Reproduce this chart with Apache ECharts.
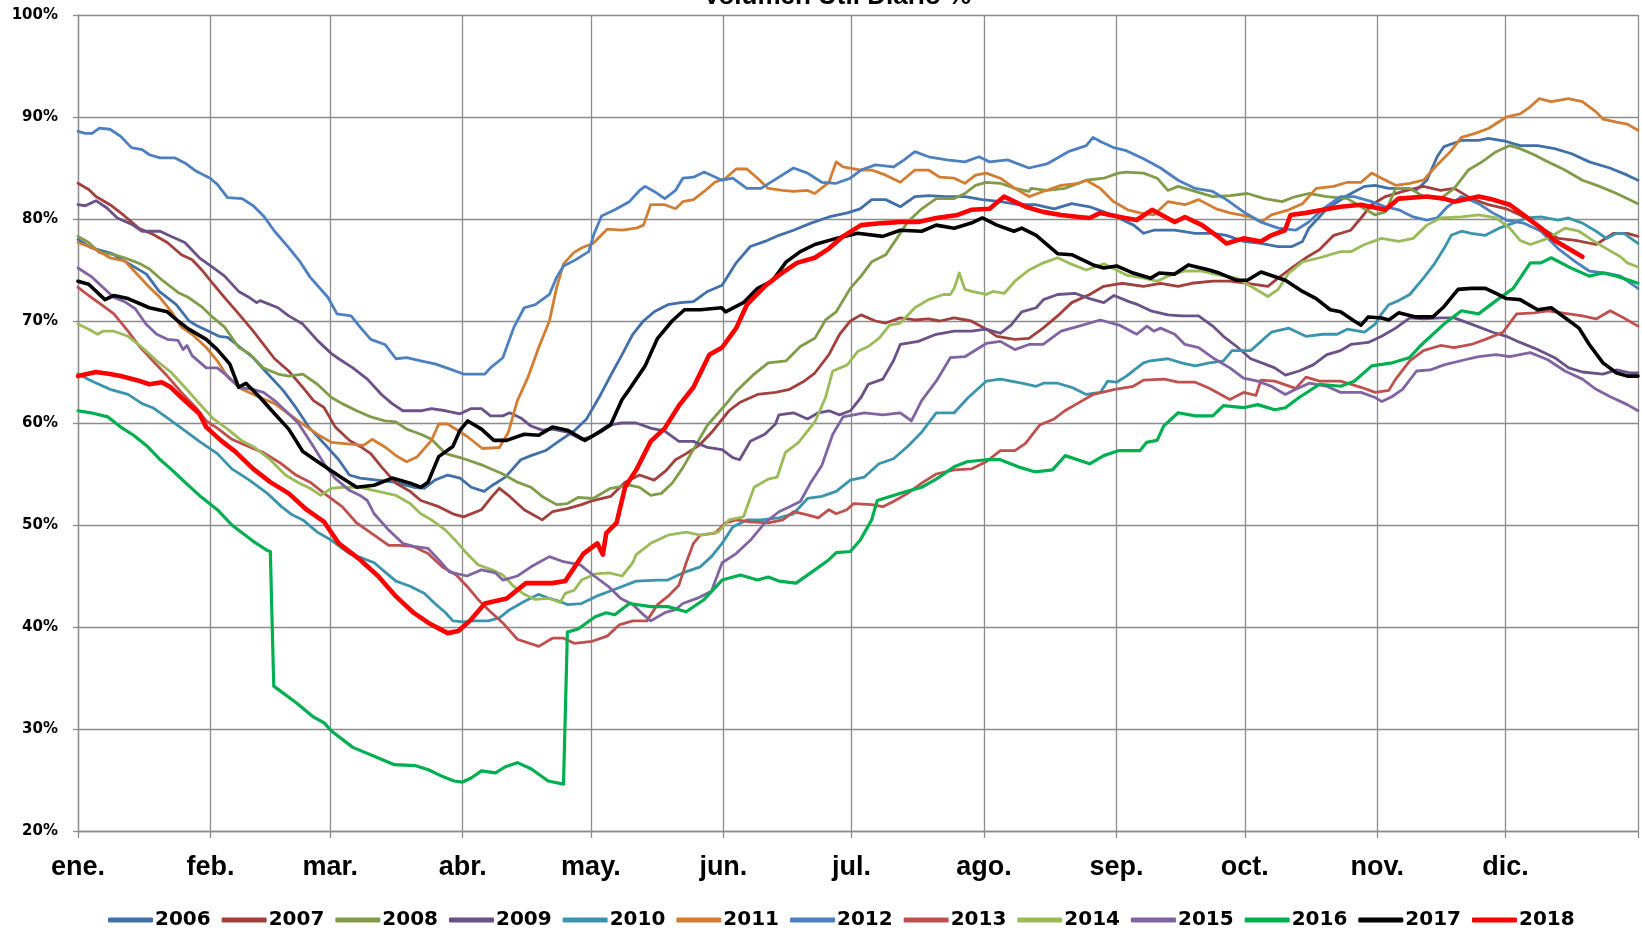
<!DOCTYPE html>
<html>
<head>
<meta charset="utf-8">
<script src="https://cdn.jsdelivr.net/npm/echarts@6/dist/echarts.min.js"></script>
<style>
html,body{margin:0;padding:0;background:#fff;}
#chart{width:1642px;height:930px;}
</style>
</head>
<body>
<div id="chart"></div>
<script>
// ---- Data: [day of year, volume %] ----
const years = ['2006','2007','2008','2009','2010','2011','2012','2013','2014','2015','2016','2017','2018'];
const monthLabels = ['ene.','feb.','mar.','abr.','may.','jun.','jul.','ago.','sep.','oct.','nov.','dic.'];
const monthStarts = [0,31,59,90,120,151,181,212,243,273,304,334,365];
const yTicks = [20,30,40,50,60,70,80,90,100];

const y2006 = [[0,78.0],[3,77.2],[8,76.6],[12,75.6],[16,74.6],[19,72.9],[23,71.6],[26,70.0],[28,69.5],[33,68.5],[35,68.4],[38,67.4],[41,66.4],[44,65.0],[48,63.2],[51,61.5],[54,59.6],[58,57.8],[61,56.4],[63.5,54.9],[66,54.6],[70,54.4],[74,54.2],[78.5,53.7],[81,53.6],[83.5,54.4],[86.5,54.9],[89.4,54.6],[92,53.7],[95,53.3],[97,53.9],[100,54.7],[103.6,56.4],[106,56.8],[109.4,57.3],[112.8,58.3],[116,59.2],[119,60.4],[122.3,62.8],[124.8,64.8],[127.3,66.7],[129.8,68.7],[132.3,70.0],[134.8,70.9],[138,71.6],[141,71.8],[144,71.9],[147.3,72.9],[150.7,73.5],[154,75.7],[157.3,77.3],[160.7,77.8],[164,78.4],[167.4,78.9],[171.5,79.6],[175.7,80.2],[180,80.6],[183,81.0],[185.7,81.9],[189,81.9],[192.4,81.2],[195.8,82.2],[199,82.3],[203,82.2],[207.5,82.2],[211.6,81.9],[216,81.7],[220,81.4],[224,81.4],[228.4,81.0],[232.5,81.5],[236.7,81.2],[240,80.7],[243,80.2],[247,79.4],[249.3,78.6],[251.7,78.9],[256.6,78.9],[261.4,78.6],[265.5,78.6],[268.7,78.4],[272.7,77.8],[276.8,77.6],[280.8,77.3],[284,77.3],[286.5,77.8],[288,79.1],[292.2,81.0],[297,82.3],[301,83.2],[303.5,83.3],[306.7,83.0],[310,83.0],[313,82.8],[315.6,83.8],[318,86.1],[319.6,87.1],[323.7,87.7],[327.7,87.7],[330,87.9],[334.2,87.6],[337.4,87.2],[341.5,87.2],[345.5,86.9],[349.5,86.4],[353.6,85.6],[358.4,85.0],[362.5,84.3],[365,83.8]];

const y2007 = [[0,83.5],[2.5,82.9],[4.2,82.2],[7.5,81.4],[10.9,80.3],[14.2,79.1],[17.5,78.5],[20.9,77.7],[24.2,76.5],[26.7,76.0],[29.2,74.9],[31.7,73.6],[34.3,72.3],[37.6,70.7],[41,69.0],[43.4,67.7],[46,66.3],[49.3,65.1],[52.6,63.5],[55.1,62.2],[57.6,61.5],[60.2,59.6],[63.5,58.3],[66,57.7],[68.5,57.0],[71,55.7],[74.4,54.1],[77.7,53.3],[80.2,52.4],[84.4,51.8],[87.7,51.1],[90.2,50.8],[94.4,51.5],[96.9,52.8],[98.6,53.6],[101,52.8],[104.4,51.5],[108.6,50.5],[111,51.3],[114.5,51.6],[117.8,52.0],[120.5,52.4],[124.6,52.8],[128,54.2],[131.4,54.9],[134.8,54.4],[137.5,55.3],[139.8,56.4],[142.3,57.0],[145.3,57.8],[148.5,59.2],[152.3,61.2],[154.8,62.0],[159,62.8],[163.2,63.0],[166.5,63.3],[169.9,64.1],[172.4,64.9],[175.7,66.7],[178.2,68.7],[180.7,70.0],[183.2,70.6],[186.6,70.0],[189,69.8],[192.4,70.3],[195.8,70.1],[199,70.2],[201.6,70.0],[205,70.3],[209,70.0],[212.5,69.2],[215,68.5],[219.2,68.2],[222.5,68.3],[225.8,69.3],[229.2,70.5],[232.5,71.8],[236.7,72.6],[240,73.4],[244.2,73.7],[249.3,73.4],[253.3,73.7],[257.4,73.4],[260.6,73.7],[265.5,73.9],[269.5,73.9],[273.6,73.7],[278.4,73.4],[280.8,74.2],[284,75.2],[287.3,76.2],[290.5,77.0],[293.8,78.4],[297.8,78.9],[300.2,80.1],[302.7,81.4],[305.9,82.2],[310,82.7],[314.8,83.2],[318.8,82.8],[322,83.0],[326,82.0],[330,81.4],[334.2,81.0],[337.4,80.4],[341.5,79.4],[346.3,78.1],[350.4,77.9],[355.2,77.5],[359.3,78.6],[362.5,78.6],[365,78.3]];

const y2008 = [[0,78.3],[2.5,77.7],[5,76.7],[8.4,76.5],[10.9,76.2],[14.6,75.6],[16.7,75.1],[20,73.9],[23.4,72.8],[25.9,72.3],[29.2,71.3],[31.7,70.3],[34.3,69.4],[37.6,67.4],[40.1,66.8],[43.4,65.4],[46.8,64.8],[49.3,64.6],[52.6,64.8],[56,63.8],[59.3,62.5],[61.8,61.9],[65.2,61.2],[68.5,60.6],[71.8,60.2],[74.4,60.1],[76.9,59.4],[80.2,58.9],[82.7,58.4],[86,57.0],[89.4,56.6],[91,56.4],[94.4,55.9],[99.4,55.0],[102.8,54.2],[106,53.7],[108.6,52.8],[112,52.0],[114.5,52.1],[117,52.7],[120.5,52.6],[124.6,53.6],[129,53.9],[131.4,53.7],[134,52.9],[136.5,53.1],[139,54.1],[141.5,55.6],[144.8,58.0],[147.3,59.8],[151.5,61.8],[154,63.1],[158.2,64.8],[161.5,65.9],[165.7,66.1],[169,67.5],[172.4,68.3],[174.9,70.1],[177.4,70.9],[180.7,73.2],[183.2,74.4],[185.7,75.8],[189,76.5],[191.6,78.1],[194.1,79.7],[197.4,81.0],[200.8,82.0],[205,82.0],[207.5,82.5],[210,83.3],[212.5,83.6],[215.8,83.5],[219.2,83.0],[222.5,82.7],[223,83.0],[226.7,82.8],[230.9,83.0],[235.9,83.8],[240,84.0],[243.4,84.5],[245.3,84.6],[249.3,84.5],[252.5,84.0],[255,82.8],[257.4,83.2],[261.4,82.7],[265.5,82.2],[269.5,82.3],[273.6,82.5],[277.6,82.0],[281.7,81.7],[284.9,82.2],[288,82.5],[292.2,82.2],[297,82.0],[300.2,81.2],[303.5,80.4],[305.9,80.7],[308.3,83.0],[311.6,83.0],[314.8,82.2],[318.8,82.0],[322,83.0],[325.3,84.8],[328.5,85.6],[331.8,86.6],[335,87.2],[337.4,86.9],[340.7,86.3],[344,85.6],[347.9,84.8],[352,83.8],[356,83.2],[360,82.5],[365,81.5]];

const y2009 = [[0,81.4],[1.7,81.3],[4.2,81.8],[6.7,81.1],[9.2,80.1],[12.5,79.5],[15,78.8],[19.2,78.8],[21.7,78.3],[25,77.7],[28.4,76.2],[31.7,75.2],[34.3,74.4],[37.6,72.9],[40.1,72.3],[41.8,71.8],[42.6,72.0],[46.8,71.3],[49.3,70.5],[52.6,69.7],[56,68.1],[59.3,66.8],[61,66.3],[64.3,65.4],[67.7,64.3],[71,62.8],[73.5,61.9],[76,61.2],[80.2,61.2],[82.7,61.4],[86,61.2],[89.4,60.9],[91.9,61.4],[94.4,61.4],[96.5,60.7],[99.4,60.7],[101,61.0],[103.6,60.5],[106,59.7],[108.6,59.3],[111,59.4],[114.5,59.1],[117.8,58.4],[120.3,58.7],[124,59.8],[127.3,60.0],[130.6,60.0],[134,59.5],[137.3,59.2],[140.6,58.2],[144,58.2],[147.3,57.6],[150.7,57.4],[153.2,56.6],[154.8,56.4],[157.3,58.2],[160.7,58.9],[163.2,59.9],[164,60.8],[167.4,61.0],[170.7,60.4],[173.2,61.0],[175.7,61.2],[178.2,60.8],[180.7,61.2],[183.2,62.5],[184.9,63.8],[188.3,64.3],[190.8,66.1],[192.4,67.7],[196.6,68.0],[200.8,68.7],[205,69.0],[209,69.0],[212.5,69.2],[215.8,68.8],[218.3,69.6],[220.8,70.9],[224.2,71.3],[225.9,72.1],[229.2,72.6],[233.4,72.7],[236.7,72.2],[240,71.8],[242.4,72.5],[245.9,71.9],[248,71.6],[251,71.0],[255,70.6],[258.2,70.5],[262.2,70.5],[265.5,69.5],[268,68.5],[271.1,67.5],[274.4,66.3],[277.6,65.8],[280,65.4],[282.5,64.7],[285.7,65.1],[289,65.7],[292.2,66.7],[295.4,67.1],[297.8,67.7],[301.9,67.9],[305,68.5],[308.3,69.3],[311.6,70.3],[314.8,70.2],[318.8,70.3],[322,70.3],[326,69.7],[331,68.9],[334.2,68.5],[337.4,67.9],[341.5,67.2],[345.5,66.4],[348.8,65.4],[352,65.0],[356.8,64.8],[360,65.2],[363.3,64.9],[365,64.9]];

const y2010 = [[0,64.8],[3.3,64.1],[7.5,63.3],[11.7,62.8],[15,61.9],[17.5,61.5],[20.9,60.5],[24.2,59.5],[28.4,58.2],[32.6,57.0],[36,55.5],[40.1,54.4],[44.3,53.1],[47.6,51.8],[50.1,51.0],[52.6,50.5],[56,49.3],[59.3,48.5],[63.5,47.2],[66.8,46.7],[69.3,46.3],[71.8,45.4],[74.4,44.5],[77.7,44.0],[81,43.3],[83.5,42.3],[86,41.4],[87.7,40.6],[90.2,40.5],[92.7,40.6],[96,40.6],[98.6,40.9],[101,41.7],[104.4,42.5],[107.8,43.2],[110.3,42.8],[112.8,42.5],[114.5,42.2],[117.8,42.3],[121.2,43.0],[125,43.6],[130.6,44.5],[135.6,44.6],[138,44.6],[141.5,45.3],[145.6,45.9],[148.2,46.9],[150.7,48.2],[153.2,49.8],[156.5,50.5],[159.8,50.5],[164,50.7],[167.4,51.1],[170.7,52.6],[174,52.8],[177.4,53.3],[180.7,54.4],[184,54.7],[187.4,56.0],[190.8,56.5],[194.1,57.7],[197.4,59.1],[200.8,61.0],[205,61.0],[208.3,62.5],[212.5,64.1],[215.8,64.3],[220.8,63.9],[224.2,63.6],[225.9,63.9],[229.2,63.9],[232.5,63.5],[235.9,62.8],[239.2,63.0],[240.9,64.1],[243,64.0],[245.3,64.6],[249.3,65.9],[250.9,66.1],[255,66.3],[258.2,65.9],[261.4,65.6],[264.7,65.9],[268,66.1],[270,67.1],[274.4,67.1],[276.8,68.0],[279.2,68.9],[283.3,69.3],[287.3,68.5],[291.3,68.7],[294.6,68.7],[297,69.2],[301,68.9],[303.5,69.7],[305,70.7],[306.7,71.6],[309,72.0],[311.6,72.6],[314.8,74.2],[317.2,75.5],[319.6,77.1],[321.3,78.4],[323.7,78.8],[326,78.6],[329.3,78.4],[332.5,79.1],[335.8,79.6],[339,80.1],[342.3,80.2],[346.3,79.9],[348.7,80.1],[352,79.6],[355.2,78.8],[357.6,78.1],[360,78.6],[361.7,78.6],[365,77.6]];

const y2011 = [[0,77.7],[3.3,77.2],[7.5,76.2],[10.9,75.9],[13.8,74.6],[16.7,73.3],[19.2,72.3],[21.7,71.0],[24.2,69.4],[26.7,68.7],[30,67.4],[32.6,66.1],[35,64.5],[38.4,63.3],[42.6,62.5],[46,61.9],[49.3,60.9],[52.6,59.9],[56,58.9],[59.3,58.1],[64.3,57.9],[66.8,57.8],[68.8,58.4],[72,57.6],[74.4,56.8],[76.9,56.2],[79.4,56.7],[82.7,58.3],[84.4,59.9],[86.5,59.9],[91,58.7],[94.6,57.5],[98.6,57.6],[100.7,59.1],[102.8,62.2],[105.3,64.5],[107.8,67.4],[110.3,70.0],[112,73.3],[113.6,75.6],[116,76.7],[118,77.2],[120.5,77.6],[123.8,79.0],[127.3,78.9],[130.6,79.1],[132.3,79.4],[134,81.4],[137.3,81.4],[139.8,81.0],[141.5,81.7],[144,81.9],[146.5,82.7],[149,83.6],[151.5,84.0],[154,84.9],[156.5,84.9],[159,84.0],[161.5,83.0],[164.9,82.8],[167.4,82.7],[170.7,82.8],[172.4,82.5],[175.7,83.6],[177.4,85.6],[179,85.1],[183.2,84.8],[185.7,84.8],[189,84.3],[192.4,83.6],[195.8,84.8],[199,84.8],[201.6,84.1],[205,84.0],[207.5,83.5],[210,84.3],[212.5,84.5],[215.8,84.0],[219.2,83.0],[222.5,82.2],[225.8,82.7],[230,83.3],[234.2,83.5],[235.9,83.8],[239.2,83.0],[242.3,81.7],[245.6,80.9],[248.5,80.6],[251.7,80.4],[255,81.7],[259,81.4],[262.2,81.9],[266.3,81.0],[269.5,80.6],[274.4,80.2],[276.8,79.7],[279.2,80.4],[283.3,80.9],[286.5,81.5],[289.7,83.0],[293.8,83.2],[297,83.6],[300.2,83.6],[302.7,84.5],[305,84.0],[308.3,83.3],[311.6,83.5],[314.8,83.8],[318,85.3],[321.3,86.7],[323.7,88.0],[326.9,88.4],[330.1,88.9],[334.2,90.0],[337.4,90.3],[339.8,91.0],[341.9,91.8],[344.7,91.5],[348.7,91.8],[352,91.5],[355.2,90.5],[356.8,89.8],[360,89.5],[362.5,89.3],[365,88.7]];

const y2012 = [[0,88.6],[1.7,88.4],[3.3,88.4],[5,88.9],[7.5,88.8],[10,88.1],[12.5,87.0],[15,86.8],[16.7,86.3],[19.2,86.0],[22.6,86.0],[25,85.5],[27.6,84.7],[30.9,84.0],[32.6,83.4],[35,82.1],[38.4,82.0],[41,81.3],[43.4,80.3],[46,78.8],[49.3,77.2],[51.8,75.9],[54.3,74.3],[58.5,72.3],[60.6,70.7],[63.9,70.5],[66,69.4],[68.5,68.2],[71.8,67.7],[74.4,66.3],[76.9,66.4],[80.2,66.1],[83.5,65.8],[86.9,65.3],[90.2,64.8],[95.2,64.8],[96.5,65.4],[99.4,66.4],[102,69.4],[104.4,71.3],[107,71.6],[110.3,72.6],[112,74.3],[113.6,75.4],[116,75.9],[119.5,76.8],[120.7,78.5],[122.5,80.3],[125.6,80.9],[129,81.7],[131.4,82.8],[132.7,83.2],[134.8,82.7],[137.3,82.0],[139.8,82.8],[141.5,84.0],[144,84.1],[146.5,84.6],[150.7,83.8],[153.2,84.0],[156.5,83.0],[159.8,83.0],[164,84.1],[167.4,85.0],[170.7,84.5],[174,83.6],[177.4,83.5],[180.7,84.0],[183.2,84.8],[186.6,85.3],[190.8,85.1],[193.3,85.8],[195.8,86.6],[199,86.1],[203.3,85.8],[207.5,85.6],[210.8,86.1],[213.3,85.6],[217.5,85.8],[222.5,85.0],[226.7,85.4],[231.7,86.6],[235.9,87.2],[237.5,88.0],[239.2,87.6],[242.3,87.0],[245.3,86.7],[249.3,85.9],[253.3,85.0],[257.4,83.8],[261.4,83.0],[265.5,82.7],[268.7,81.9],[272.7,80.7],[276.8,79.7],[280.8,79.1],[284.9,78.9],[288,79.7],[291.3,81.0],[295.4,82.2],[298.6,82.2],[302.7,81.7],[305.9,81.2],[309,80.9],[312.4,80.2],[315.6,79.9],[318,80.1],[320.4,81.2],[323.7,82.2],[327.7,81.5],[331,80.6],[334.2,79.9],[338.2,79.6],[342.3,78.8],[346.3,77.1],[350.4,75.8],[353.6,74.9],[357.6,74.7],[360.9,74.4],[365,73.2]];

const y2013 = [[0,73.3],[2.5,72.5],[5.8,71.5],[8.4,70.7],[11.7,69.0],[14.2,67.6],[17.5,66.1],[20.9,64.6],[24.2,63.0],[27.6,61.5],[30,60.2],[32.6,59.5],[36,58.4],[39.3,57.8],[43.4,57.1],[47.6,56.0],[51,54.9],[54.3,54.2],[57.6,53.1],[61.8,51.8],[65.2,50.2],[69.3,49.0],[72.7,48.0],[75.2,48.0],[78.5,47.9],[81.9,47.2],[85.2,45.9],[88.5,45.1],[91,44.0],[93.6,42.7],[96,41.7],[99.4,40.4],[102.8,38.8],[107.8,38.1],[111,38.9],[113.6,38.9],[116.1,38.4],[120.3,38.6],[123.8,39.1],[126.6,40.2],[129.8,40.6],[133.1,40.6],[135.6,42.2],[138,43.0],[140.6,44.1],[142.3,46.3],[144,48.2],[145.6,49.0],[149,49.2],[151.5,50.2],[154,50.5],[157.3,50.3],[161.5,50.2],[164.9,50.5],[167.4,51.3],[170.7,51.0],[173.2,50.7],[175.7,51.5],[177.4,51.1],[179.9,51.5],[181.5,52.1],[185.7,52.0],[188.3,51.8],[190.8,52.3],[194.1,53.1],[197.4,54.1],[200.8,55.0],[205,55.4],[209,55.5],[212.5,56.2],[215.8,57.3],[219.2,57.3],[221.7,58.0],[225,59.8],[228.4,60.4],[230.9,61.2],[234.2,62.0],[237.5,62.8],[242.6,63.3],[246.9,63.6],[249.3,64.2],[254.2,64.3],[257.4,64.0],[261.4,64.0],[264.7,63.4],[269.5,62.3],[272.7,63.0],[275.6,62.7],[276.8,64.2],[280,64.1],[284.9,63.4],[287.3,64.5],[290.5,64.1],[295.4,64.1],[300.2,63.5],[303.5,63.0],[306.7,63.2],[308.3,64.3],[311.6,66.1],[314.8,67.1],[318.8,67.6],[322,67.4],[326,67.7],[329.3,68.2],[333.4,68.9],[336.6,70.7],[340.7,70.8],[343.9,71.0],[348.8,70.7],[352,70.5],[355.2,70.2],[358.5,71.0],[361.7,70.3],[365,69.5]];

const y2014 = [[0,69.7],[2.5,69.2],[4.6,68.7],[5.8,69.0],[8.4,69.0],[11.7,68.5],[15,67.4],[18.4,66.1],[21.7,65.0],[25,63.5],[28.4,61.9],[31.7,60.4],[35,59.4],[38.5,58.2],[41,57.7],[45,56.4],[48.5,54.9],[51.8,54.1],[54.3,53.6],[56.8,52.9],[59.3,53.6],[61.8,53.7],[66,53.7],[70.2,53.3],[74.4,52.9],[77.7,52.1],[80.2,51.1],[82.7,50.5],[86,49.5],[88.5,48.4],[91,47.2],[93.6,46.1],[96.9,45.6],[99.4,45.1],[101.9,44.0],[104.4,43.2],[106.9,42.7],[110.3,42.8],[112.8,42.4],[114,43.3],[116.1,43.6],[117.8,44.6],[121,45.2],[124.3,45.3],[127.3,45.0],[129.8,46.3],[130.6,47.1],[134,48.2],[138,49.0],[142.3,49.3],[145.6,49.0],[149.8,49.3],[152.3,50.5],[155.7,50.8],[158.2,53.7],[161.5,54.5],[163.6,54.7],[165.5,57.1],[168.6,58.1],[172.4,60.1],[174.9,62.5],[176.6,65.1],[180,65.7],[182.4,67.0],[184.9,67.5],[187.4,68.3],[189.9,69.6],[192.4,69.8],[195.8,71.3],[199,72.1],[202.5,72.6],[204.1,72.6],[205,73.2],[206.2,74.7],[207.5,73.1],[209.1,72.9],[212.5,72.6],[214.1,72.9],[216.7,72.7],[219.2,73.9],[222.5,75.0],[225.9,75.7],[229.2,76.2],[231.7,75.7],[235.9,75.0],[240,75.6],[243,75.0],[245.3,74.5],[249.3,74.2],[252.5,73.9],[255,74.4],[259,74.9],[263,74.9],[267,74.5],[271.1,74.2],[274.4,73.4],[278.4,72.4],[280.8,73.1],[283.3,74.7],[286.5,75.8],[290.5,76.2],[295.4,76.8],[297.8,76.8],[301,77.5],[305,78.1],[309,77.8],[312.4,78.1],[315.6,79.4],[318.8,80.1],[323.7,80.2],[327.7,80.4],[331.8,80.1],[335,79.1],[337.4,77.9],[339.8,77.5],[343.9,78.1],[347.9,79.1],[351.2,78.8],[354.4,77.9],[357.6,77.1],[360.9,76.3],[362.5,75.7],[365,75.3]];

const y2015 = [[0,75.2],[3.3,74.3],[5.8,73.3],[8.4,72.3],[10.9,71.9],[13.4,71.2],[15.9,69.7],[18.4,68.7],[20.9,68.2],[23.4,68.1],[24.6,67.2],[25.5,67.6],[26.7,66.6],[30,65.4],[32.6,65.4],[35,64.6],[37.6,63.5],[41,63.3],[43.4,63.0],[46,62.2],[49.3,60.9],[51.5,60.0],[54.3,58.2],[57.6,56.0],[60.1,54.6],[63.5,53.4],[66,52.9],[67.7,52.4],[69.3,51.1],[72.7,49.5],[76,48.2],[78.5,47.9],[81.9,47.7],[84.4,46.6],[86.9,45.4],[91,45.0],[94.4,45.6],[97.7,45.3],[99.4,44.6],[102.8,45.0],[106,45.9],[110.3,46.9],[113.6,46.4],[117.5,46.1],[120.8,45.0],[124.3,43.9],[127,42.8],[129.8,42.2],[132.3,41.2],[134,40.6],[137.3,41.4],[139.8,41.7],[141.5,42.3],[144.8,42.8],[148.2,43.5],[150.7,46.3],[154,47.2],[157.3,48.5],[160.7,50.2],[164,51.3],[166.5,51.8],[169,52.3],[171.5,54.2],[174,55.8],[176.6,58.9],[179,60.6],[184,61.0],[188.3,60.8],[192.4,61.0],[195,60.2],[197.4,62.2],[200.8,64.1],[204.1,66.4],[207.5,66.5],[212.5,67.8],[215.8,68.0],[219.2,67.2],[222.5,67.7],[225.8,67.7],[230,69.0],[234.2,69.5],[239.2,70.1],[243.6,69.6],[247.7,68.7],[250.1,69.5],[251.7,69.0],[253.3,69.3],[256.6,68.7],[259,67.7],[262.2,67.4],[265.5,66.4],[269.5,65.4],[272.7,64.4],[276,64.1],[279.2,63.6],[282.5,62.8],[284.9,63.3],[288.1,63.9],[292.2,63.6],[295.4,63.0],[300.2,63.0],[303.5,62.5],[305.1,62.1],[307.5,62.6],[309.9,63.3],[313.2,65.1],[316.4,65.2],[319.6,65.7],[324.5,66.2],[327.7,66.5],[331.8,66.7],[335,66.5],[339.8,66.9],[343.9,66.2],[347.9,65.1],[352,64.3],[355.2,63.3],[358.4,62.6],[362.5,61.8],[365,61.2]];

const y2016 = [[0,61.2],[3,61.0],[7,60.6],[10,59.6],[13,58.8],[16,57.8],[19,56.5],[21.7,55.5],[25,54.2],[28.4,52.9],[32.6,51.5],[36,50.0],[41,48.4],[44.3,47.5],[45,47.4],[45.8,34.2],[51,32.6],[55,31.2],[57.6,30.6],[59.3,29.8],[64.3,28.2],[70,27.2],[74,26.5],[79,26.4],[82,26.0],[85,25.4],[88,24.9],[90,24.8],[92,25.2],[94.4,25.9],[97.7,25.7],[100,26.3],[102.8,26.7],[106,26.1],[110,24.9],[113.6,24.6],[114.5,39.5],[117,39.8],[121,41.0],[123.6,41.4],[125.6,41.2],[129,42.3],[134,42.0],[138,42.0],[142.3,41.5],[146.5,42.7],[150.7,44.6],[155,45.1],[159,44.6],[161.5,44.9],[164,44.5],[168,44.3],[172.4,45.6],[175.7,46.6],[177.4,47.3],[180.7,47.4],[183,48.5],[185.7,50.5],[187,52.4],[190,52.8],[194,53.3],[197.4,53.7],[200.8,54.5],[205,55.7],[208,56.2],[212.5,56.4],[215.8,56.4],[220,55.7],[224,55.2],[228,55.4],[231,56.8],[236.7,56.0],[240,56.8],[243.6,57.3],[248.5,57.3],[250,58.1],[252.5,58.3],[254,59.7],[257.4,61.0],[261.4,60.7],[265.5,60.7],[268,61.7],[272.7,61.5],[276,61.8],[280,61.3],[282.5,61.5],[285.7,62.5],[290.5,63.8],[295.4,63.6],[298.6,64.1],[302.7,65.6],[307.5,65.9],[311.5,66.4],[314.4,67.7],[319.6,69.7],[323.7,71.0],[327.7,70.7],[331.8,72.0],[335.8,73.2],[339.8,75.7],[342.3,75.7],[344.7,76.2],[348.8,75.3],[353.6,74.4],[356.8,74.7],[360,74.4],[365,73.7]];

const y2017 = [[0,73.9],[2.5,73.6],[6.3,72.1],[8.4,72.5],[11.7,72.2],[16.7,71.3],[20.9,70.9],[23.4,70.0],[25.9,69.2],[30,68.2],[32.6,67.2],[35.5,65.8],[37.6,63.5],[39.3,63.9],[42.6,62.5],[46,60.9],[49.3,59.4],[52.6,57.2],[56.8,56.0],[61.8,54.6],[65.2,53.7],[69.3,53.9],[73.5,54.6],[77.7,54.1],[80.2,53.7],[81.9,54.2],[84.4,56.7],[87.7,57.7],[89.4,59.3],[91.2,60.2],[94.4,59.4],[97.3,58.3],[100.3,58.3],[104.4,58.9],[107.8,58.8],[111,59.6],[114.5,59.3],[118.6,58.3],[122,59.1],[124.6,59.8],[127.3,62.3],[129,63.3],[132.7,65.6],[135.6,68.3],[139,70.0],[141.9,71.1],[145.6,71.1],[150.6,71.3],[151.5,70.9],[155.7,71.8],[159,73.2],[162.4,73.9],[165.7,75.8],[169,76.8],[172.4,77.5],[177.4,78.1],[182.4,78.6],[188.3,78.3],[192.4,78.9],[197.4,78.8],[200.8,79.4],[205,79.1],[209,79.6],[211.6,80.1],[215,79.4],[219,78.8],[220.8,79.1],[224.2,78.4],[229.2,76.6],[232.5,76.5],[237.5,75.5],[240,75.2],[243,75.4],[246.9,74.7],[251,74.2],[253,74.7],[256.6,74.6],[259.8,75.5],[264.7,75.0],[267,74.7],[271,74.0],[273.6,74.0],[276.8,74.8],[282.5,74.0],[286.5,72.9],[289.7,72.2],[293,71.1],[295.4,70.9],[298.6,70.0],[300.2,69.6],[301.9,70.4],[305,70.3],[306.7,70.1],[309,70.8],[313,70.4],[317,70.4],[319.6,71.4],[322.9,73.1],[326,73.2],[329.3,73.2],[331.8,72.7],[334.2,72.2],[337.4,72.1],[341.5,71.1],[344.7,71.3],[348,70.3],[351.2,69.3],[353.6,67.7],[356.8,65.9],[360,64.9],[362.5,64.6],[365,64.6]];

const y2018 = [[0,64.6],[4.2,65.0],[7.5,64.8],[10,64.6],[13.8,64.2],[16.7,63.8],[19.6,64.0],[21.7,63.5],[24.2,62.5],[28.4,60.9],[30,59.6],[33.4,58.3],[36.8,57.2],[41,55.5],[45,54.2],[49.3,53.1],[53.5,51.5],[57.6,50.3],[61,48.2],[66,46.6],[70.2,45.0],[74.4,43.0],[78.5,41.4],[82,40.4],[86.5,39.4],[89,39.6],[91.9,40.7],[95.2,42.3],[100.3,42.8],[104.8,44.3],[107.8,44.3],[111,44.3],[114,44.5],[118.3,47.2],[121.5,48.2],[122.8,47.1],[123.6,49.2],[126,50.2],[128,53.7],[130.6,55.4],[134,58.2],[137.3,59.5],[140.6,61.7],[144,63.5],[147.7,66.7],[150.7,67.4],[154,69.3],[156.5,71.6],[160.7,73.4],[164,74.5],[168.2,75.7],[172.4,76.2],[175.7,77.1],[179,78.3],[183.2,79.4],[188.3,79.6],[192.4,79.7],[196.6,79.7],[200.8,80.1],[205.8,80.4],[209,80.9],[213.3,81.0],[216.7,82.2],[221.7,81.2],[225.8,80.7],[230,80.4],[234.2,80.2],[236.7,80.1],[239.2,80.6],[245,80.1],[247.7,79.9],[251.3,80.9],[256.6,79.7],[259,80.2],[263,79.4],[266.3,78.4],[268.7,77.6],[272.7,78.1],[276.8,77.8],[279.2,78.4],[282.4,78.9],[283.7,80.4],[287.3,80.6],[291.3,80.9],[295.4,81.2],[300.2,81.4],[305.9,80.9],[309,82.0],[315.6,82.2],[319.6,82.0],[322,81.7],[327.7,82.2],[331,81.9],[335,81.4],[338.2,80.4],[342.3,79.1],[345.5,77.9],[348.7,77.1],[352,76.3]];

// ---- Styling ----
const seriesData = [y2006,y2007,y2008,y2009,y2010,y2011,y2012,y2013,y2014,y2015,y2016,y2017,y2018];
const colors = ['#4170A9','#A3403D','#809C48','#6A5188','#3A94AD','#D27D32','#4D80C0','#C0504D','#9BBB59','#8064A2','#00B050','#000000','#FF0000'];
const widths = [2.8,2.8,2.8,2.8,2.8,2.8,2.8,2.8,2.8,2.8,3.2,3.6,4.6];

const chart = echarts.init(document.getElementById('chart'), null, {renderer:'canvas'});
const gridColor = '#8c8c8c';

chart.setOption({
  animation: false,
  backgroundColor: '#ffffff',
  color: colors,
  title: {
    text: 'Volumen Útil Diario %',
    left: 698, top: -21,
    textStyle: {fontFamily: 'Liberation Sans', fontWeight: 'bold', fontSize: 26, color: '#000'}
  },
  grid: {left: 78, top: 15, right: 4, bottom: 99, containLabel: false},
  legend: {
    data: years,
    left: 103, top: 905,
    icon: 'roundRect',
    itemWidth: 45, itemHeight: 5, itemGap: 11,
    textStyle: {fontFamily: 'DejaVu Sans', fontWeight: 'bold', fontSize: 20, color: '#000', padding: [0,0,0,-3]}
  },
  xAxis: {
    type: 'value', min: 0, max: 365,
    axisLine: {show: true, lineStyle: {color: gridColor, width: 1.3}},
    axisTick: {show: true, length: 7, inside: false, customValues: monthStarts, lineStyle: {color: gridColor, width: 1.3}},
    axisLabel: {
      customValues: monthStarts.slice(0, 12),
      margin: 23,
      formatter: function (v) { const i = monthStarts.indexOf(v); return i >= 0 && i < 12 ? monthLabels[i] : ''; },
      fontFamily: 'Liberation Sans', fontWeight: 'bold', fontSize: 27, color: '#000'
    },
    splitLine: {show: true, lineStyle: {color: gridColor, width: 1.3}}
  },
  yAxis: {
    type: 'value', min: 20, max: 100, interval: 10,
    axisLine: {show: true, lineStyle: {color: gridColor, width: 1.3}},
    axisTick: {show: true, length: 5, lineStyle: {color: gridColor, width: 1.3}},
    axisLabel: {
      margin: 20,
      formatter: '{value}%',
      fontFamily: 'DejaVu Sans', fontWeight: 'bold', fontSize: 15, color: '#000'
    },
    splitLine: {show: true, lineStyle: {color: gridColor, width: 1.3}}
  },
  series: years.map(function (y, i) {
    return {
      name: y, type: 'line', data: seriesData[i],
      showSymbol: false, symbol: 'none', smooth: false,
      lineStyle: {width: widths[i], color: colors[i], cap: 'round', join: 'round'},
      itemStyle: {color: colors[i]},
      emphasis: {disabled: true},
      z: 2 + i * 0.01
    };
  })
});
</script>
</body>
</html>
